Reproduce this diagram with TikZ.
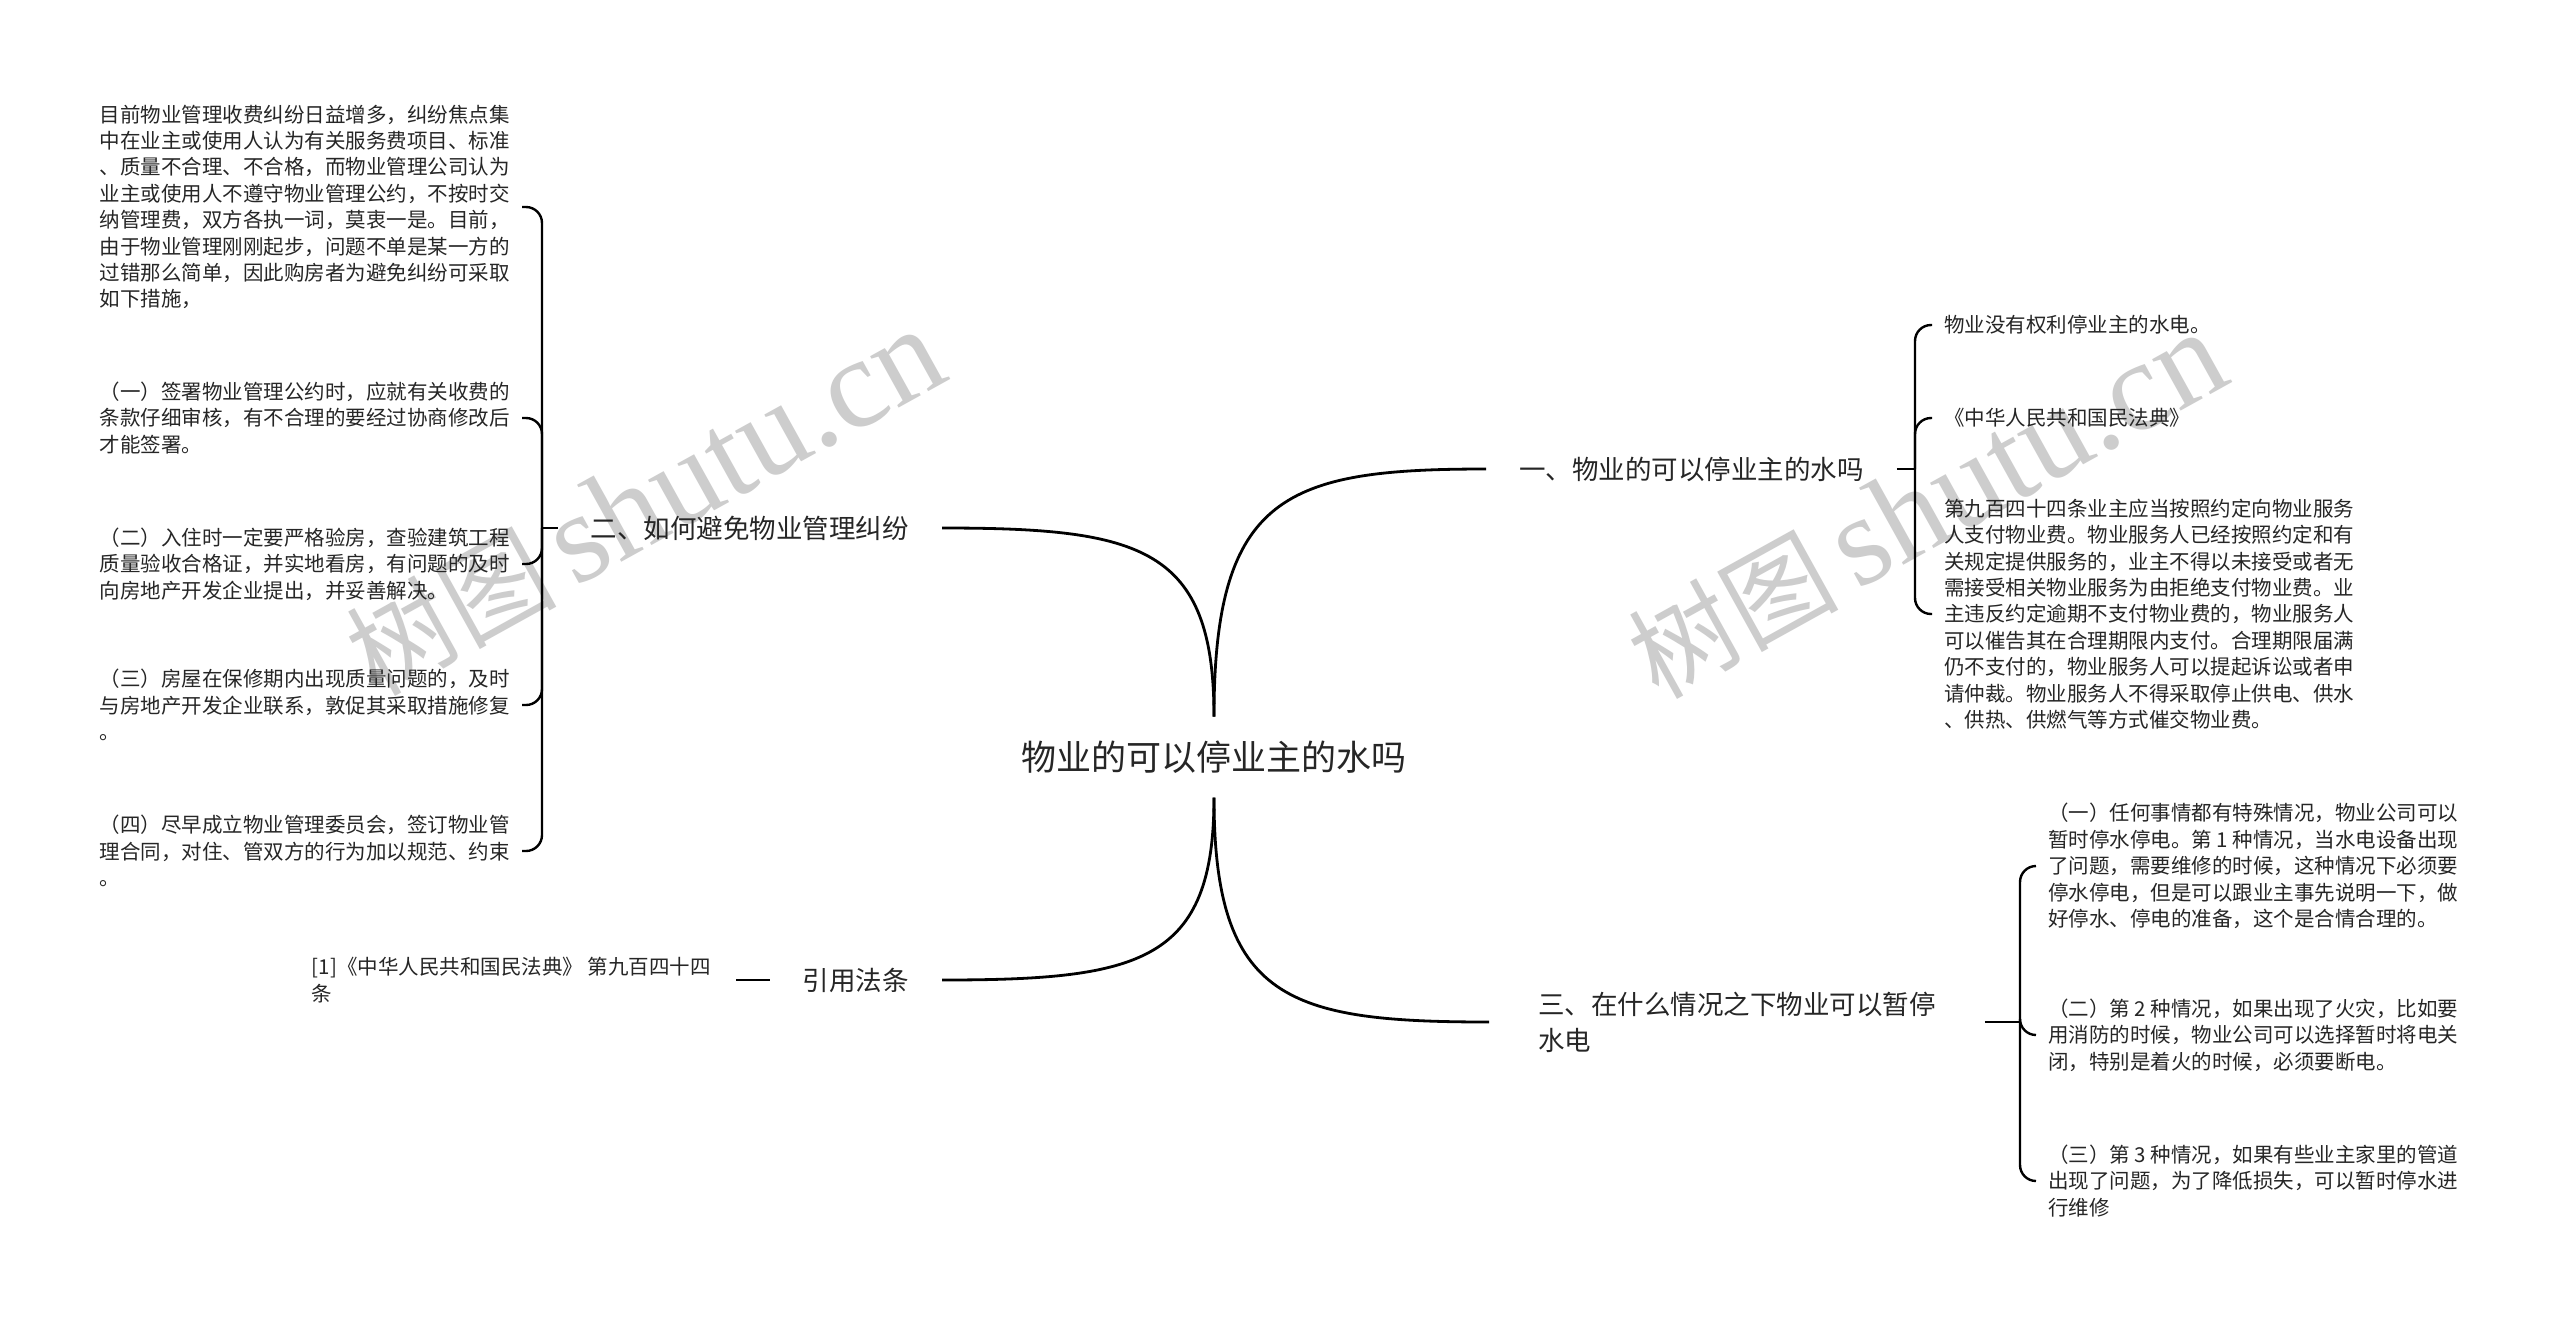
\documentclass[tikz,border=0pt]{standalone}
\usepackage{fontspec}
\setmainfont{Noto Sans CJK SC}
\newfontfamily\wmserif{Liberation Serif}
\definecolor{txt}{HTML}{262626}
\definecolor{wmgray}{HTML}{CDCDCD}
\begin{document}
\begin{tikzpicture}[x=1pt,y=-1pt,
  leaf/.style={font=\fontsize{20.5}{26.4}\selectfont, align=left, inner xsep=12pt, inner ysep=0pt, text=txt},
  branch/.style={font=\fontsize{26.5}{36}\selectfont, align=left, inner xsep=33pt, inner ysep=0pt, text=txt},
  conn/.style={line width=2.8pt, draw=black},
  brk/.style={line width=2.4pt, draw=black, rounded corners=16pt},
  wm/.style={text=wmgray, rotate=29, inner sep=0pt}
]
\useasboundingbox[fill=white] (0,0) rectangle (2560,1318);

% watermarks
\node[wm] (wm1) at (645,503) {\fontsize{105}{105}\selectfont 树图\,{\wmserif\fontsize{128}{128}\selectfont shutu.cn}};
\node[wm] (wm2) at (1927,506) {\fontsize{105}{105}\selectfont 树图\,{\wmserif\fontsize{128}{128}\selectfont shutu.cn}};

% center
\node[font=\fontsize{35}{40}\selectfont, inner xsep=0pt, inner ysep=24pt, text=txt] (c) at (1214,757) {物业的可以停业主的水吗};

% branches
\node[branch, anchor=west] (b1) at (1486,469) {一、物业的可以停业主的水吗};
\node[branch, anchor=east] (b2) at (942,528) {二、如何避免物业管理纠纷};
\node[branch, anchor=west, inner xsep=49pt] (b3) at (1489,1022) {三、在什么情况之下物业可以暂停\\水电};
\node[branch, anchor=east] (b4) at (942,980) {引用法条};

\coordinate (J1) at (1915,469);
\coordinate (J2) at (542,528);
\coordinate (J3) at (2020,1022);

% left leaves
\node[leaf, anchor=east] (p1) at (522,207) {目前物业管理收费纠纷日益增多，纠纷焦点集\\中在业主或使用人认为有关服务费项目、标准\\、质量不合理、不合格，而物业管理公司认为\\业主或使用人不遵守物业管理公约，不按时交\\纳管理费，双方各执一词，莫衷一是。目前，\\由于物业管理刚刚起步，问题不单是某一方的\\过错那么简单，因此购房者为避免纠纷可采取\\如下措施，};
\node[leaf, anchor=east] (p2) at (522,418) {（一）签署物业管理公约时，应就有关收费的\\条款仔细审核，有不合理的要经过协商修改后\\才能签署。};
\node[leaf, anchor=east] (p3) at (522,564) {（二）入住时一定要严格验房，查验建筑工程\\质量验收合格证，并实地看房，有问题的及时\\向房地产开发企业提出，并妥善解决。};
\node[leaf, anchor=east] (p4) at (522,705) {（三）房屋在保修期内出现质量问题的，及时\\与房地产开发企业联系，敦促其采取措施修复\\。};
\node[leaf, anchor=east] (p5) at (522,851) {（四）尽早成立物业管理委员会，签订物业管\\理合同，对住、管双方的行为加以规范、约束\\。};

% citation
\node[leaf, anchor=east, inner xsep=25pt] (cite) at (736,980) {[1]《中华人民共和国民法典》 第九百四十四\\条};

% right leaves of b1
\node[leaf, anchor=west] (r1) at (1932,325) {物业没有权利停业主的水电。};
\node[leaf, anchor=west] (r2) at (1932,418) {《中华人民共和国民法典》};
\node[leaf, anchor=west] (r3) at (1932,614) {第九百四十四条业主应当按照约定向物业服务\\人支付物业费。物业服务人已经按照约定和有\\关规定提供服务的，业主不得以未接受或者无\\需接受相关物业服务为由拒绝支付物业费。业\\主违反约定逾期不支付物业费的，物业服务人\\可以催告其在合理期限内支付。合理期限届满\\仍不支付的，物业服务人可以提起诉讼或者申\\请仲裁。物业服务人不得采取停止供电、供水\\、供热、供燃气等方式催交物业费。};

% right leaves of b3
\node[leaf, anchor=west] (s1) at (2036,866) {（一）任何事情都有特殊情况，物业公司可以\\暂时停水停电。第 1 种情况，当水电设备出现\\了问题，需要维修的时候，这种情况下必须要\\停水停电，但是可以跟业主事先说明一下，做\\好停水、停电的准备，这个是合情合理的。};
\node[leaf, anchor=west] (s2) at (2036,1035) {（二）第 2 种情况，如果出现了火灾，比如要\\用消防的时候，物业公司可以选择暂时将电关\\闭，特别是着火的时候，必须要断电。};
\node[leaf, anchor=west] (s3) at (2036,1181) {（三）第 3 种情况，如果有些业主家里的管道\\出现了问题，为了降低损失，可以暂时停水进\\行维修};

% main connectors
\draw[conn] (c.north) .. controls (1214,494) and (1287,469) .. (b1.west);
\draw[conn] (c.north) .. controls (1214,547) and (1141,528) .. (b2.east);
\draw[conn] (c.south) .. controls (1214,1000) and (1288,1022) .. (b3.west);
\draw[conn] (c.south) .. controls (1214,962) and (1141,980) .. (b4.east);

% short stubs
\draw[brk] (b1.east) -- (J1);
\draw[brk] (b2.west) -- (J2);
\draw[brk] (b3.east) -- (J3);
\draw[brk] (b4.west) -- (cite.east);

% brackets
\foreach \n in {p1,p2,p3,p4,p5} \draw[brk] (J2) |- (\n.east);
\foreach \n in {r1,r2,r3} \draw[brk] (J1) |- (\n.west);
\foreach \n in {s1,s2,s3} \draw[brk] (J3) |- (\n.west);
\end{tikzpicture}
\end{document}
